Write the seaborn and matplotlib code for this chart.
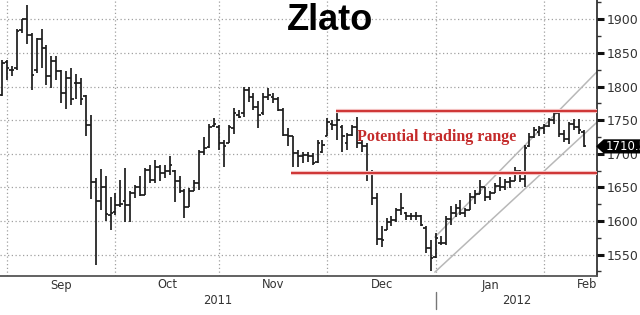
import numpy as np
import pandas as pd
import matplotlib
matplotlib.use("Agg")
import matplotlib.pyplot as plt
import matplotlib.transforms as mtrans
from matplotlib.patches import Polygon
import seaborn as sns

# ---- data ----
dates = pd.bdate_range("2011-08-31", "2012-02-13")
high = [1840, 1840, 1830, 1885, 1901, 1921, 1879, 1872, 1885, 1862,
        1845, 1846, 1825, 1823, 1828, 1818, 1812, 1787, 1757, 1664,
        1677, 1667, 1636, 1641, 1661, 1679, 1644, 1654, 1667, 1679,
        1684, 1691, 1684, 1684, 1696, 1676, 1667, 1647, 1649, 1661,
        1706, 1725, 1745, 1753, 1743, 1721, 1743, 1768, 1765, 1799,
        1800, 1790, 1778, 1790, 1798, 1790, 1785, 1768, 1738, 1726,
        1706, 1703, 1703, 1701, 1721, 1721, 1753, 1750, 1762, 1743,
        1731, 1743, 1755, 1721, 1716, 1676, 1641, 1592, 1604, 1607,
        1619, 1641, 1614, 1612, 1614, 1609, 1592, 1572, 1582, 1578,
        1607, 1622, 1626, 1631, 1619, 1641, 1646, 1661, 1650, 1645,
        1656, 1666, 1662, 1665, 1681, 1676, 1713, 1731, 1740, 1742,
        1745, 1753, 1763, 1762, 1735, 1748, 1752, 1752, 1735]
low = [1786, 1810, 1815, 1825, 1879, 1864, 1795, 1820, 1827, 1803,
       1798, 1810, 1775, 1766, 1773, 1781, 1772, 1727, 1633, 1535,
       1617, 1600, 1587, 1609, 1621, 1599, 1599, 1634, 1637, 1639,
       1656, 1656, 1659, 1664, 1669, 1628, 1641, 1604, 1621, 1644,
       1646, 1698, 1708, 1740, 1706, 1681, 1716, 1730, 1753, 1755,
       1777, 1765, 1738, 1758, 1780, 1775, 1763, 1726, 1711, 1681,
       1681, 1686, 1688, 1683, 1686, 1701, 1726, 1735, 1721, 1703,
       1706, 1726, 1708, 1703, 1659, 1624, 1564, 1562, 1587, 1592,
       1599, 1609, 1602, 1602, 1602, 1592, 1552, 1525, 1545, 1565,
       1565, 1594, 1606, 1609, 1606, 1616, 1626, 1640, 1630, 1631,
       1642, 1645, 1646, 1649, 1660, 1658, 1651, 1710, 1723, 1726,
       1730, 1740, 1745, 1725, 1718, 1715, 1735, 1730, 1710]
open_ = [1788, 1837, 1825, 1827, 1884, 1900, 1877, 1825, 1870, 1857,
         1815, 1838, 1823, 1790, 1813, 1805, 1806, 1786, 1743, 1658,
         1630, 1650, 1609, 1614, 1624, 1630, 1624, 1641, 1651, 1639,
         1676, 1661, 1681, 1671, 1674, 1674, 1659, 1644, 1621, 1644,
         1656, 1703, 1710, 1742, 1740, 1716, 1716, 1738, 1758, 1760,
         1795, 1785, 1770, 1760, 1785, 1785, 1782, 1765, 1728, 1726,
         1701, 1696, 1698, 1696, 1688, 1703, 1726, 1745, 1743, 1740,
         1716, 1728, 1740, 1716, 1711, 1671, 1634, 1574, 1587, 1599,
         1602, 1617, 1612, 1607, 1608, 1607, 1590, 1560, 1547, 1568,
         1567, 1603, 1612, 1620, 1612, 1616, 1636, 1640, 1650, 1636,
         1642, 1652, 1650, 1658, 1660, 1675, 1662, 1712, 1725, 1732,
         1738, 1742, 1750, 1760, 1730, 1722, 1745, 1740, 1733]
close = [1835, 1827, 1825, 1883, 1900, 1877, 1817, 1870, 1857, 1816,
         1838, 1823, 1790, 1813, 1781, 1806, 1782, 1743, 1658, 1630,
         1650, 1610, 1612, 1624, 1626, 1624, 1641, 1651, 1639, 1676,
         1661, 1681, 1671, 1674, 1684, 1659, 1644, 1621, 1644, 1656,
         1703, 1708, 1740, 1745, 1716, 1711, 1740, 1760, 1755, 1795,
         1785, 1770, 1758, 1785, 1788, 1782, 1765, 1728, 1726, 1701,
         1696, 1698, 1696, 1686, 1716, 1713, 1748, 1743, 1750, 1726,
         1728, 1740, 1716, 1711, 1671, 1634, 1574, 1572, 1599, 1602,
         1617, 1619, 1607, 1608, 1607, 1594, 1560, 1545, 1575, 1567,
         1603, 1612, 1620, 1612, 1616, 1636, 1640, 1650, 1636, 1642,
         1652, 1650, 1658, 1660, 1675, 1662, 1708, 1725, 1735, 1738,
         1742, 1750, 1760, 1730, 1722, 1745, 1740, 1735, 1712]

y_ticks = [1550, 1600, 1650, 1700, 1750, 1800, 1850, 1900]
month_names = ["Sep", "Oct", "Nov", "Dec", "Jan", "Feb"]
year_names = ["2011", "2012"]
title = "Zlato"
range_label = "Potential trading range"
range_label_value = 1725
range_label_start = "2011-12-09"
range_levels = [1763, 1671]                 # upper / lower red line
range_start = ["2011-12-05", "2011-11-22"]  # where each red line starts
channel_start = "2012-01-02"
channel_upper = [1576, 1822]                # value at channel start / right edge
channel_lower = [1524, 1747]
last_price = "1710.5"
last_value = 1711

# ---- positions: trading-day index, Sep 1 = 0 ----
pos = np.arange(len(dates)) - 1
def day_pos(d):
    d = pd.Timestamp(d)
    return float(np.interp(d.value, dates.asi8, pos))

month_starts = [pos[np.argmax((dates.month == m) & (dates.year == y))]
                for y, m in [(2011, 9), (2011, 10), (2011, 11), (2011, 12), (2012, 1), (2012, 2)]]

sns.set_style("white")
plt.rcParams["font.family"] = ["DejaVu Sans"]

fig = plt.figure(figsize=(6.4, 3.15), dpi=100)
ax = fig.add_axes([0.0, 39.5 / 315, 597 / 640, 275.5 / 315])
xmin, xmax = -1.42, 119.7
ax.set_xlim(xmin, xmax)
ax.set_ylim(1519, 1928.7)

# grid
ax.set_xticks(month_starts)
ax.set_xticklabels([])
ax.set_yticks(y_ticks)
ax.set_yticks([v + 25 for v in [1500] + y_ticks], minor=True)
ax.grid(True, which="major", linestyle=(0, (1, 2)), color="#a0a0a0", linewidth=0.9)
ax.set_axisbelow(True)

# OHLC bars
bar_col = "#1c1c1c"
ax.vlines(pos, low, high, color=bar_col, linewidth=1.25, zorder=3)
ax.hlines(open_, pos - 0.5, pos, color=bar_col, linewidth=1.25, zorder=3)
ax.hlines(close, pos, pos + 0.5, color=bar_col, linewidth=1.25, zorder=3)

# channel lines
cx = [day_pos(channel_start) - 0.2, xmax]
for vals in (channel_upper, channel_lower):
    sns.lineplot(x=cx, y=vals, ax=ax, color="#b8b8b8", linewidth=1.1, zorder=2)

# trading range lines
for lvl, st in zip(range_levels, range_start):
    x0 = day_pos(st) - 0.3
    ax.plot([x0, xmax], [lvl, lvl], color="#f3c0c0", linewidth=3.0, zorder=4, solid_capstyle="butt")
    ax.plot([x0, xmax], [lvl, lvl], color="#cc2a2a", linewidth=1.3, zorder=5, solid_capstyle="butt")

ax.text(day_pos(range_label_start), range_label_value, range_label, color="#c42a2a", fontsize=11.5,
        fontweight="bold", family="Liberation Serif", ha="left", va="center", zorder=6)

# spines & ticks
for s in ("left", "top"):
    ax.spines[s].set_visible(False)
ax.spines["right"].set_color("#222222")
ax.spines["right"].set_linewidth(1.2)
ax.spines["bottom"].set_color("#555555")
ax.spines["bottom"].set_linewidth(1.3)
ax.yaxis.tick_right()
ax.tick_params(axis="y", which="major", direction="out", length=5, width=2.2,
               color="#111111", labelsize=9, labelcolor="#333333", pad=2)
ax.tick_params(axis="y", which="minor", direction="out", length=3, width=1, color="#333333")
ax.tick_params(axis="x", which="major", direction="inout", length=6, width=1.2, color="#555555")

# month / year labels
trans = mtrans.blended_transform_factory(ax.transData, fig.transFigure)
bounds = month_starts + [xmax]
for i, name in enumerate(month_names):
    if i < len(month_names) - 1:
        xc = (bounds[i] + bounds[i + 1]) / 2
    else:
        xc = xmax - 2
    ax.text(xc, 1 - 285 / 315, name, transform=trans, ha="center", va="center",
            fontsize=8.3, color="#333333", clip_on=False)
ycenters = [(xmin + month_starts[4]) / 2, (month_starts[4] + xmax) / 2]
for xc, name in zip(ycenters, year_names):
    ax.text(xc, 1 - 301 / 315, name, transform=trans, ha="center", va="center",
            fontsize=8.3, color="#333333", clip_on=False)
ax.plot([month_starts[4], month_starts[4]], [1 - 292 / 315, 1 - 309 / 315], transform=trans,
        color="#777777", linewidth=1, clip_on=False)

# last price tag (arrow box pointing at the axis)
ptrans = mtrans.blended_transform_factory(fig.transFigure, ax.transData)
half = 9.5
tag = Polygon([(597 / 640, last_value), (604 / 640, last_value + half), (1.0, last_value + half),
               (1.0, last_value - half), (604 / 640, last_value - half)],
              closed=True, transform=ptrans, facecolor="black", edgecolor="black",
              zorder=9, clip_on=False)
ax.add_patch(tag)
ax.text(606 / 640, last_value, last_price, transform=ptrans, ha="left", va="center",
        fontsize=8.5, color="white", zorder=10, clip_on=False)

# title
fig.text(330 / 640, 1 - 21 / 315, title, ha="center", va="center", fontsize=26,
         fontweight="bold", family="Liberation Sans", color="black")

fig.savefig("out.png", dpi=100)
